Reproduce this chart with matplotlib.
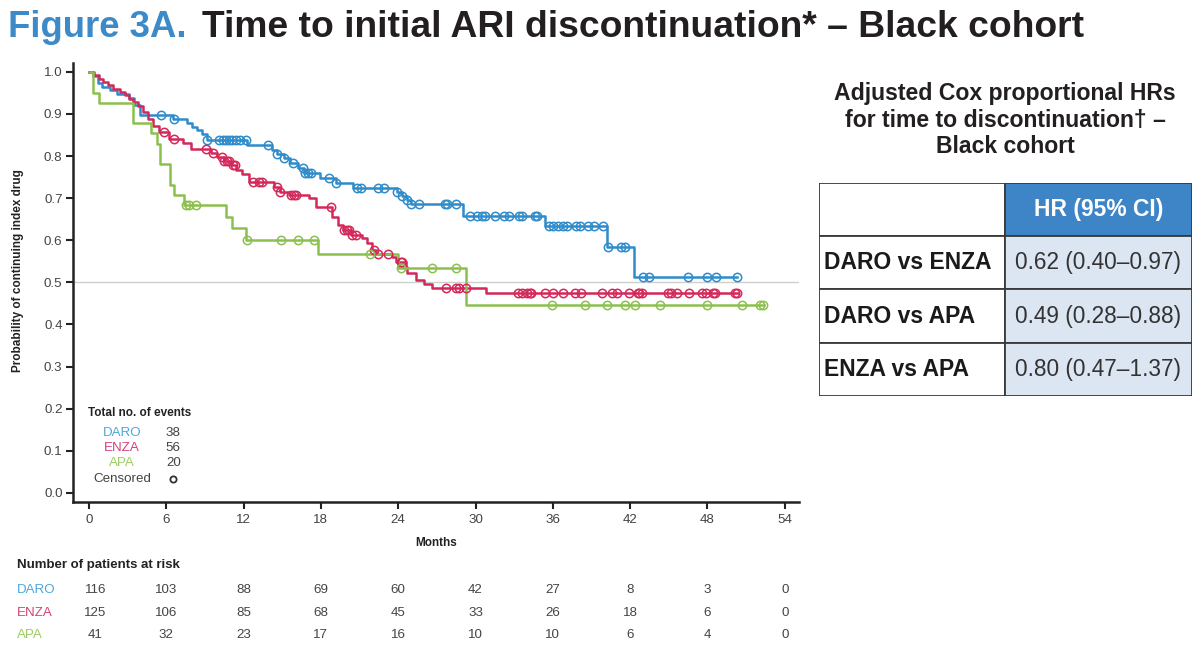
import numpy as np
import matplotlib
matplotlib.use('Agg')
import matplotlib.pyplot as plt
from matplotlib.patches import Rectangle
from matplotlib.transforms import blended_transform_factory

plt.rcParams['font.family'] = ['Liberation Sans', 'DejaVu Sans']

# Kaplan-Meier steps (month of event, survival after step) and censor months
daro_t = [0.3, 0.7, 1.0, 1.6, 2.2, 3.1, 3.5, 4.0, 6.5, 7.6, 8.0, 8.4, 8.8, 9.2,
          12.3, 14.2, 14.6, 15.1, 15.6, 16.2, 16.7, 17.9, 19.2, 20.5, 23.9, 24.3,
          24.7, 25.0, 29.0, 35.4, 40.2, 42.3]
daro_s = [0.991, 0.974, 0.965, 0.957, 0.948, 0.939, 0.922, 0.897, 0.888, 0.879,
          0.870, 0.861, 0.852, 0.838, 0.826, 0.814, 0.805, 0.795, 0.784, 0.772,
          0.760, 0.748, 0.736, 0.724, 0.714, 0.704, 0.695, 0.686, 0.658, 0.633,
          0.584, 0.512]
daro_c = [5.6, 6.6, 9.2, 10.1, 10.4, 10.6, 10.9, 11.1, 11.4, 11.7, 12.2, 13.9,
          14.6, 15.1, 15.8, 16.6, 16.8, 17.0, 17.2, 18.6, 19.2, 20.8, 21.1, 22.4,
          22.9, 23.9, 24.3, 24.7, 25.0, 25.6, 27.6, 27.8, 28.5, 29.6, 30.1, 30.5,
          30.7, 31.5, 32.2, 32.6, 33.4, 33.6, 34.6, 34.8, 35.7, 36.0, 36.4, 36.8,
          37.1, 37.8, 38.1, 38.7, 39.2, 39.9, 40.3, 41.3, 41.6, 43.0, 43.5, 46.5,
          48.0, 48.7, 50.3]
daro_end = 50.3

enza_t = [0.4, 0.8, 1.1, 1.5, 1.9, 2.4, 2.8, 3.1, 3.4, 3.8, 4.2, 4.6, 5.0, 5.4,
          6.2, 7.3, 7.9, 9.5, 9.9, 10.5, 11.0, 11.4, 11.9, 12.4, 14.4, 14.8, 15.5,
          17.1, 17.6, 18.9, 19.3, 19.7, 20.3, 21.2, 21.6, 22.0, 22.3, 23.5, 23.8,
          24.6, 24.7, 25.4, 26.0, 26.6, 30.8]
enza_s = [0.992, 0.984, 0.976, 0.968, 0.960, 0.952, 0.944, 0.936, 0.928, 0.920,
          0.904, 0.888, 0.872, 0.856, 0.840, 0.831, 0.817, 0.808, 0.798, 0.788,
          0.778, 0.767, 0.757, 0.738, 0.726, 0.714, 0.707, 0.700, 0.679, 0.655,
          0.636, 0.624, 0.612, 0.605, 0.593, 0.576, 0.568, 0.560, 0.548, 0.536,
          0.521, 0.505, 0.495, 0.486, 0.474]
enza_c = [5.8, 6.6, 9.1, 9.6, 10.3, 10.5, 10.7, 10.9, 11.2, 11.3, 12.7, 13.2, 13.4,
          14.6, 14.8, 15.7, 15.9, 16.1, 18.8, 19.8, 20.0, 20.2, 20.4, 20.7, 22.1,
          22.4, 23.2, 24.2, 24.3, 27.7, 28.5, 28.7, 29.3, 33.3, 33.6, 34.0, 34.2,
          34.3, 35.4, 36.0, 36.8, 37.7, 38.2, 39.8, 40.6, 41.0, 41.9, 42.6, 42.7,
          42.9, 44.9, 45.2, 45.6, 46.6, 47.6, 47.9, 48.4, 48.6, 50.1, 50.3]
enza_end = 50.4

apa_t = [0.3, 0.8, 3.4, 4.8, 5.3, 5.5, 6.3, 6.6, 7.4, 10.6, 11.1, 12.2, 17.8,
         24.0, 29.3]
apa_s = [0.951, 0.927, 0.878, 0.854, 0.829, 0.780, 0.732, 0.707, 0.683, 0.655,
         0.628, 0.601, 0.567, 0.533, 0.445]
apa_c = [7.5, 7.8, 8.3, 12.3, 14.9, 16.2, 17.5, 21.8, 24.2, 26.6, 28.5, 35.9,
         38.5, 40.2, 41.6, 42.4, 44.3, 48.0, 50.7, 52.1, 52.3]
apa_end = 52.4

groups = ['DARO', 'ENZA', 'APA']
events = [38, 56, 20]
risk_months = [0, 6, 12, 18, 24, 30, 36, 42, 48, 54]
risk_daro = [116, 103, 88, 69, 60, 42, 27, 8, 3, 0]
risk_enza = [125, 106, 85, 68, 45, 33, 26, 18, 6, 0]
risk_apa = [41, 32, 23, 17, 16, 10, 10, 6, 4, 0]

hr_rows = ['DARO vs ENZA', 'DARO vs APA', 'ENZA vs APA']
hr_vals = ['0.62 (0.40\u20130.97)', '0.49 (0.28\u20130.88)', '0.80 (0.47\u20131.37)']

line_cols = ['#2f8ccb', '#d3285a', '#8cc04e']
text_cols = ['#4ea6dc', '#d6407a', '#9fcb62']
small = 9.6

fig = plt.figure(figsize=(12, 6.63), dpi=100)
fig.patch.set_facecolor('white')

# title
fig.text(0.007, 0.958, 'Figure 3A.', color='#3d8ac9', fontsize=26.3,
         fontweight='bold', va='center', ha='left')
fig.text(0.1685, 0.958, 'Time to initial ARI discontinuation* \u2013 Black cohort',
         color='#231f20', fontsize=26.8, fontweight='bold', va='center', ha='left')

ax = fig.add_axes([0.0608, 0.2428, 0.605, 0.6621])
ax.set_xlim(-1.24, 55.1)
ax.set_ylim(-0.022, 1.021)
ax.axhline(0.5, color='#cfcfcf', lw=1.0, zorder=0)

curves = [(daro_t, daro_s, daro_c, daro_end),
          (enza_t, enza_s, enza_c, enza_end),
          (apa_t, apa_s, apa_c, apa_end)]
for (t, s, c, end), col in zip(curves, line_cols):
    tt = np.array([0] + t + [end])
    ss = np.array([1.0] + s + [s[-1]])
    ax.step(tt, ss, where='post', color=col, lw=1.8, zorder=3)
    idx = np.searchsorted(tt, np.array(c), side='right') - 1
    ax.plot(c, ss[idx], 'o', ms=6, mfc='none', mec=col, mew=1.1, zorder=4)

for side in ['top', 'right']:
    ax.spines[side].set_visible(False)
for side in ['left', 'bottom']:
    ax.spines[side].set_linewidth(1.8)
    ax.spines[side].set_color('#222222')
ax.set_xticks(risk_months)
ax.set_yticks(np.arange(0, 1.01, 0.1))
ax.set_yticklabels(['%.1f' % v for v in np.arange(0, 1.01, 0.1)])
ax.tick_params(direction='out', length=5, width=1.5, color='#222222',
               labelsize=small, labelcolor='#444444')
ax.tick_params(axis='y', pad=2.5)
ax.set_xlabel('Months', fontsize=8.5, fontweight='bold', color='#222222')
ax.xaxis.set_label_coords(0.5, -0.0797)
ax.set_ylabel('Probability of continuing index drug', fontsize=8.5,
              fontweight='bold', color='#222222')
ax.yaxis.set_label_coords(-0.0675, 0.528)

# events legend
ax.text(0.021, 0.203, 'Total no. of events', transform=ax.transAxes, fontsize=8.5,
        fontweight='bold', color='#222222', va='center')
for i, (g, n) in enumerate(zip(groups, events)):
    y = 0.157 - i * 0.034
    ax.text(0.0675, y, g, transform=ax.transAxes, fontsize=small, color=text_cols[i],
            ha='center', va='center')
    ax.text(0.128, y, str(n), transform=ax.transAxes, fontsize=small,
            color='#444444', ha='left', va='center')
ax.text(0.0675, 0.053, 'Censored', transform=ax.transAxes, fontsize=small,
        color='#444444', ha='center', va='center')
ax.plot([0.1377], [0.053], 'o', ms=4.5, mfc='none', mec='#333333', mew=1.3,
        transform=ax.transAxes, clip_on=False)

# number at risk
fig.text(0.014, 0.148, 'Number of patients at risk', fontsize=9.5,
         fontweight='bold', color='#222222', va='center')
trans = blended_transform_factory(ax.transData, fig.transFigure)
for i, (g, row) in enumerate(zip(groups, [risk_daro, risk_enza, risk_apa])):
    y = 0.110 - i * 0.034
    fig.text(0.014, y, g, fontsize=small, color=text_cols[i], va='center')
    for m, n in zip(risk_months, row):
        xm = m + 0.5 if m == 0 else m
        ax.text(xm, y, str(n), transform=trans, fontsize=small, color='#444444',
                ha='center', va='center', clip_on=False)

# HR table
fig.text(0.8375, 0.819, 'Adjusted Cox proportional HRs\nfor time to discontinuation\u2020 \u2013\nBlack cohort',
         fontsize=16.6, fontweight='bold', color='#231f20', ha='center', va='center',
         linespacing=1.17)
tax = fig.add_axes([0.6825, 0.4027, 0.3108, 0.3213])
tax.set_xlim(0, 1)
tax.set_ylim(0, 4)
tax.axis('off')
split = 0.4987
edge = '#3a3a3a'
tax.add_patch(Rectangle((0, 3), split, 1, fc='white', ec=edge, lw=1.3))
tax.add_patch(Rectangle((split, 3), 1 - split, 1, fc='#3d85c6', ec=edge, lw=1.3))
tax.text((1 + split) / 2, 3.5, 'HR (95% CI)', color='white', fontsize=16.5,
         fontweight='bold', ha='center', va='center')
for i, (r, v) in enumerate(zip(hr_rows, hr_vals)):
    y0 = 2 - i
    tax.add_patch(Rectangle((0, y0), split, 1, fc='white', ec=edge, lw=1.3))
    tax.add_patch(Rectangle((split, y0), 1 - split, 1, fc='#dce5f2', ec=edge, lw=1.3))
    tax.text(0.014, y0 + 0.5, r, fontsize=16.5, fontweight='bold', color='#1a1a1a',
             ha='left', va='center')
    tax.text((1 + split) / 2, y0 + 0.5, v, fontsize=16.3, color='#333333',
             ha='center', va='center')

fig.savefig('out.png', dpi=100)
